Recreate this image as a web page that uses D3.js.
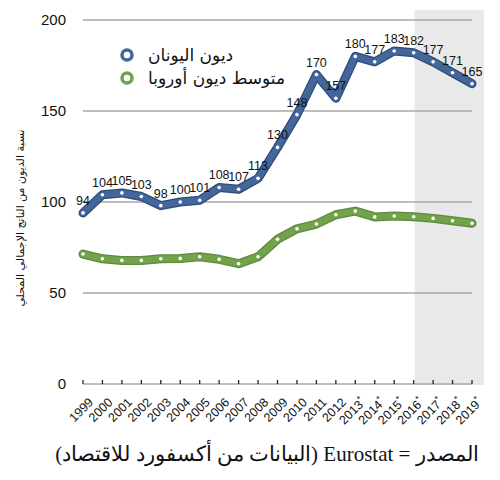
<!DOCTYPE html>
<html><head><meta charset="utf-8">
<script src="https://cdn.jsdelivr.net/npm/d3@7"></script>
<style>body{margin:0;background:#fff}svg{display:block}</style>
</head><body>
<svg id="c" width="500" height="480"></svg>
<script>
const years = ["1999","2000","2001","2002","2003","2004","2005","2006","2007","2008","2009","2010","2011","2012","2013*","2014*","2015*","2016*","2017*","2018*","2019*"];
const greece = [94,104,105,103,98,100,101,108,107,113,130,148,170,157,180,177,183,182,177,171,165];
const euroAvg = [71.4,68.8,67.9,67.9,68.8,69.0,69.9,68.5,66.1,69.9,79.5,85.3,87.9,93.0,95.0,91.8,92.3,91.9,91.0,89.7,88.3];
const yTicks = [0,50,100,150,200];
const seriesNames = ["ديون اليونان","متوسط ديون أوروبا"];
const yTitle = "نسبة الديون من الناتج الإجمالي المحلي";
const source = "المصدر = Eurostat (البيانات من أكسفورد للاقتصاد)";
const forecastStart = "2016*";

const svg = d3.select("#c");
const x = d3.scalePoint().domain(years).range([83,472]);
const y = d3.scaleLinear().domain([0,200]).range([384,20]);

// forecast band
svg.append("rect").attr("x", x(forecastStart)+1).attr("y",10)
  .attr("width", 484-(x(forecastStart)+1)).attr("height", y(0)+1-10).attr("fill","#e9e9e9");

// grid
svg.append("g").selectAll("line").data(yTicks.filter(d=>d>0)).join("line")
  .attr("x1",83).attr("x2",472).attr("y1",d=>y(d)).attr("y2",d=>y(d))
  .attr("stroke","#a8a8a8").attr("stroke-width",1.3);
// x axis line
svg.append("line").attr("x1",83).attr("x2",472).attr("y1",y(0)).attr("y2",y(0))
  .attr("stroke","#a8a8a8").attr("stroke-width",1.3);
svg.append("g").selectAll("line").data(years).join("line")
  .attr("x1",d=>x(d)).attr("x2",d=>x(d)).attr("y1",y(0)).attr("y2",y(0)-4)
  .attr("stroke","#222").attr("stroke-width",1.3);

// y tick labels
svg.append("g").selectAll("text").data(yTicks).join("text")
  .attr("x",66).attr("y",d=>y(d)+5).attr("text-anchor","end")
  .attr("font-family","Liberation Sans, Arial, sans-serif").attr("font-size",15).attr("fill","#111")
  .text(d=>d);

// x tick labels
const xl = svg.append("g").selectAll("text").data(years).join("text")
  .attr("transform",d=>`translate(${x(d)+11},${y(0)+19}) rotate(-45)`)
  .attr("text-anchor","end").attr("font-family","Liberation Sans, Arial, sans-serif")
  .attr("font-size",12.5).attr("fill","#111");
xl.append("tspan").text(d=>d.replace("*",""));
xl.filter(d=>d.includes("*")).append("tspan").attr("font-size",9).attr("dy",-5).text("*");

// y title
svg.append("text").attr("transform","translate(24,218) rotate(-90)")
  .attr("text-anchor","middle").attr("font-family","DejaVu Sans, sans-serif")
  .attr("font-size",11).attr("fill","#111").attr("direction","rtl").text(yTitle);

const line = d3.line().x((d,i)=>x(years[i])).y(d=>y(d)).curve(d3.curveLinear);

function drawSeries(data, outer, inner){
  const g = svg.append("g");
  g.append("path").attr("d",line(data)).attr("fill","none").attr("stroke",outer)
    .attr("stroke-width",9).attr("stroke-linejoin","round").attr("stroke-linecap","round");
  g.append("path").attr("d",line(data)).attr("fill","none").attr("stroke",inner)
    .attr("stroke-width",6.5).attr("stroke-linejoin","round").attr("stroke-linecap","round");
  g.selectAll("circle").data(data).join("circle")
    .attr("cx",(d,i)=>x(years[i])).attr("cy",d=>y(d)).attr("r",1.8).attr("fill","#fff");
}
drawSeries(euroAvg, "#5e8a3c", "#74a14c");
drawSeries(greece, "#2e4a78", "#44679b");

// value labels
svg.append("g").selectAll("text").data(greece).join("text")
  .attr("x",(d,i)=>x(years[i])).attr("y",d=>y(d)-8)
  .attr("text-anchor","middle").attr("font-family","Liberation Sans, Arial, sans-serif")
  .attr("font-size",12.5).attr("fill","#111").text(d=>d);

// legend
const leg = svg.append("g");
[["#44679b","#2e4a78"],["#74a14c","#5e8a3c"]].forEach((c,i)=>{
  const cy = 55 + i*23;
  leg.append("circle").attr("cx",127).attr("cy",cy).attr("r",5).attr("fill","#fff")
    .attr("stroke",c[0]).attr("stroke-width",3.5);
  leg.append("text").attr("x",148).attr("y",cy+6).attr("text-anchor","start")
    .attr("font-family","DejaVu Sans, sans-serif").attr("font-size",17).attr("fill","#111")
    .attr("direction","ltr").text(seriesNames[i]);
});

// source
svg.append("text").attr("x",267).attr("y",461).attr("text-anchor","middle")
  .attr("font-family","Liberation Serif, Times New Roman, serif").attr("font-size",21)
  .attr("fill","#111").attr("direction","rtl").text(source);
</script>
</body></html>
